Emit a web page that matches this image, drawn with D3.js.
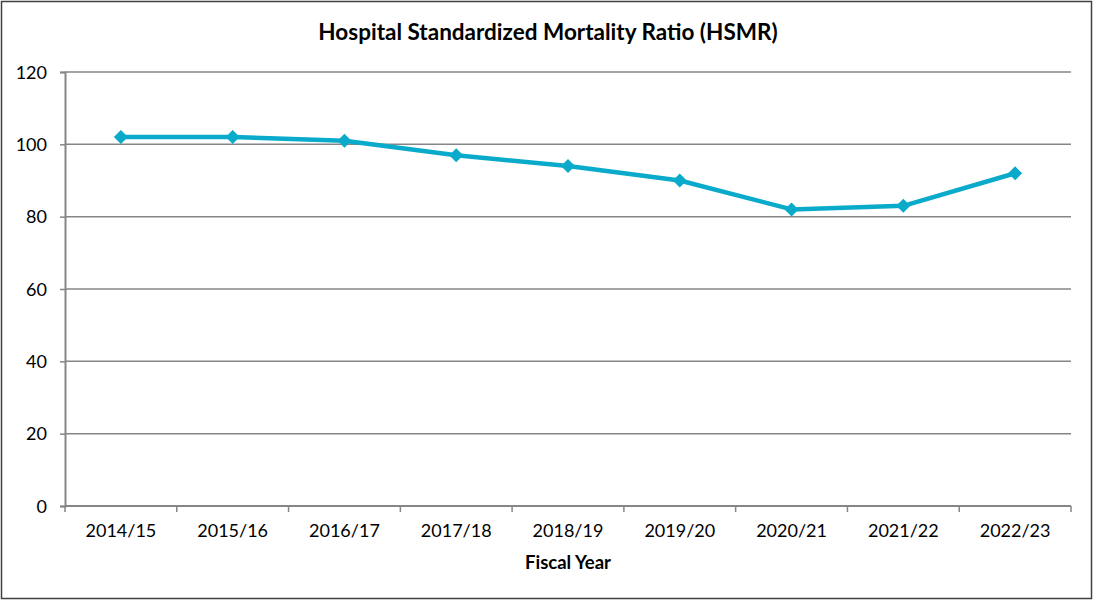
<!DOCTYPE html>
<html><head><meta charset="utf-8">
<script src="https://cdn.jsdelivr.net/npm/d3@7"></script>
<style>body{margin:0;background:#fff;} svg{display:block;} text{font-family:Lato,"Open Sans",sans-serif;fill:#000;}</style>
</head><body>
<svg id="c" width="1093" height="600"></svg>
<script>
const categories = ["2014/15","2015/16","2016/17","2017/18","2018/19","2019/20","2020/21","2021/22","2022/23"];
const hsmr = [102, 102, 101, 97, 94, 90, 82, 83, 92];
const yTicks = [0, 20, 40, 60, 80, 100, 120];
const titleText = "Hospital Standardized Mortality Ratio (HSMR)";
const xTitle = "Fiscal Year";

const svg = d3.select("#c");
const m = {l:65, r:1071, t:72, b:506};
svg.append("rect").attr("x",1.5).attr("y",1.5).attr("width",1090).attr("height",597)
  .attr("fill","#fff").attr("stroke","#404040").attr("stroke-width",1.5);

const x = d3.scaleBand().domain(categories).range([m.l, m.r]).padding(0);
const y = d3.scaleLinear().domain([0,120]).range([m.b, m.t]);

const ya = svg.append("g").attr("transform",`translate(${m.l},0)`)
  .call(d3.axisLeft(y).tickValues(yTicks).tickSize(5).tickPadding(13).tickFormat(d3.format("d")));
ya.select(".domain").attr("stroke","#868686").attr("stroke-width",2);
ya.selectAll(".tick line").attr("stroke","#868686").attr("stroke-width",1.5);
ya.selectAll(".tick text").style("font-size","18px").attr("dy","0.35em");
svg.append("g").selectAll("line").data(yTicks.filter(d=>d>0)).join("line")
  .attr("x1",m.l).attr("x2",m.r).attr("y1",d=>y(d)).attr("y2",d=>y(d))
  .attr("stroke","#868686").attr("stroke-width",1.5);

const xa = svg.append("g").attr("transform",`translate(0,${m.b})`)
  .call(d3.axisBottom(x).tickSize(0).tickPadding(18));
xa.select(".domain").attr("stroke","#868686").attr("stroke-width",2).attr("d",`M${m.l},0H${m.r}`);
xa.selectAll(".tick text").style("font-size","18px");
const bounds = categories.map(c=>x(c)).concat([m.r]);
svg.append("g").selectAll("line").data(bounds).join("line")
  .attr("x1",d=>d).attr("x2",d=>d).attr("y1",m.b).attr("y2",m.b+6)
  .attr("stroke","#868686").attr("stroke-width",1.5);

const cx = d => x(d) + x.bandwidth()/2;
const line = d3.line().x((d,i)=>cx(categories[i])).y(d=>y(d));
svg.append("path").datum(hsmr).attr("d",line).attr("fill","none")
  .attr("stroke","#0AAACB").attr("stroke-width",4.5).attr("stroke-linejoin","round");
svg.append("g").selectAll("path").data(hsmr).join("path")
  .attr("d", d3.symbol().type(d3.symbolDiamond2).size(125))
  .attr("transform",(d,i)=>`translate(${cx(categories[i])},${y(d)})`)
  .attr("fill","#0AAACB");

svg.append("text").attr("x",548).attr("y",40).attr("text-anchor","middle")
  .style("font-size","22.5px").style("font-weight","bold").text(titleText);
svg.append("text").attr("x",568).attr("y",569).attr("text-anchor","middle")
  .style("font-size","18.5px").style("font-weight","bold").text(xTitle);
</script>
</body></html>
